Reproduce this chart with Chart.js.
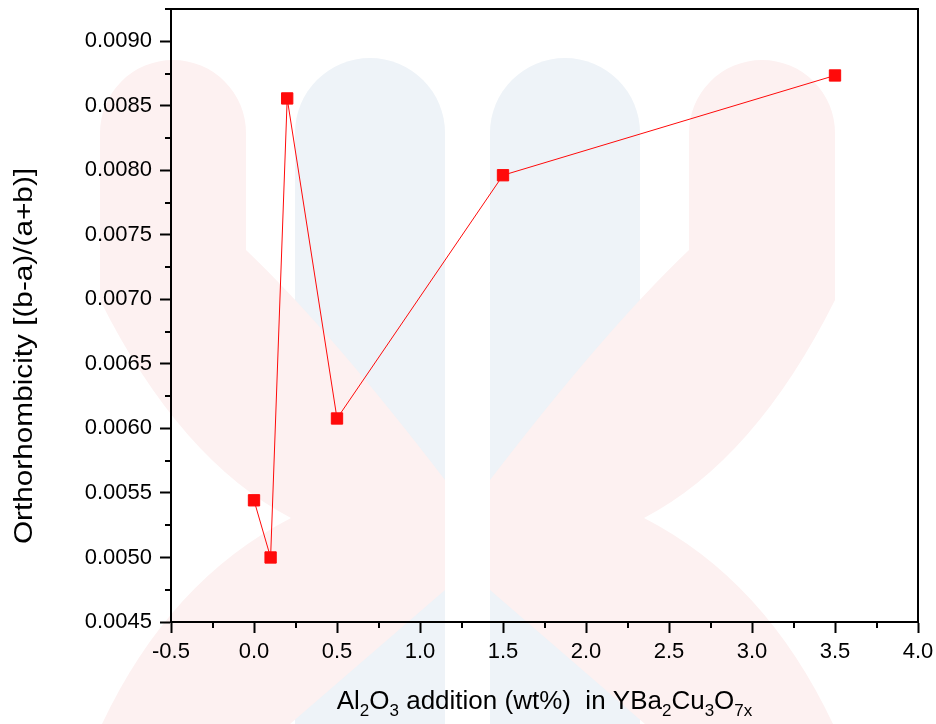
<!DOCTYPE html>
<html>
<head>
<meta charset="utf-8">
<script src="https://cdn.jsdelivr.net/npm/chart.js@4.4.1/dist/chart.umd.min.js"></script>
<style>
  html, body { margin: 0; padding: 0; background: #fff; }
  canvas { display: block; }
</style>
</head>
<body>
<canvas id="chart" width="936" height="724"></canvas>
<script>
/* global Chart */
const alumina = [0, 0.1, 0.2, 0.5, 1.5, 3.5];
const orthorhombicity = [0.005443, 0.00500, 0.008557, 0.006077, 0.007962, 0.008735];
const xTickLabels = ['-0.5', '0.0', '0.5', '1.0', '1.5', '2.0', '2.5', '3.0', '3.5', '4.0'];
const yTickLabels = ['0.0045', '0.0050', '0.0055', '0.0060', '0.0065', '0.0070', '0.0075', '0.0080', '0.0085', '0.0090'];
const yTitle = 'Orthorhombicity [(b-a)/(a+b)]';
// [text, isSubscript]
const xTitleParts = [['Al', 0], ['2', 1], ['O', 0], ['3', 1], [' addition (wt%)  in YBa', 0],
  ['2', 1], ['Cu', 0], ['3', 1], ['O', 0], ['7x', 1]];

const FONT = '"Liberation Sans", Arial, Helvetica, sans-serif';
const RED = '#ff0a0a';

function labelFor(list, value) {
  const hit = list.find((l) => Math.abs(Number(l) - value) < 1e-9);
  return hit === undefined ? '' : hit;
}

// faint logo in the background of the original picture
function drawWatermark(ctx) {
  ctx.save();
  ctx.fillStyle = '#eef3f8';
  [[295, 445], [490, 640]].forEach(([l, r]) => {
    const c = (l + r) / 2, rad = (r - l) / 2;
    ctx.beginPath();
    ctx.moveTo(l, 724);
    ctx.lineTo(l, 58 + rad);
    ctx.arc(c, 58 + rad, rad, Math.PI, 0);
    ctx.lineTo(r, 724);
    ctx.closePath();
    ctx.fill();
  });
  ctx.fillStyle = '#fdf1f1';
  [false, true].forEach((mirror) => {
    ctx.save();
    if (mirror) { ctx.translate(935, 0); ctx.scale(-1, 1); }
    ctx.beginPath();
    ctx.moveTo(100, 133);
    ctx.arc(173, 133, 73, Math.PI, 0);
    ctx.lineTo(246, 250);
    ctx.quadraticCurveTo(330, 330, 445, 480);
    ctx.lineTo(445, 590);
    ctx.lineTo(290, 724);
    ctx.lineTo(102, 724);
    ctx.quadraticCurveTo(170, 580, 291, 518);
    ctx.quadraticCurveTo(180, 460, 100, 300);
    ctx.closePath();
    ctx.fill();
    ctx.restore();
  });
  ctx.restore();
}

const frame = {
  id: 'frame',
  beforeDraw(chart) {
    drawWatermark(chart.ctx);
  },
  afterDraw(chart) {
    const {ctx, chartArea: a, scales: {x, y}} = chart;
    ctx.save();
    ctx.strokeStyle = '#000';
    ctx.lineWidth = 2;
    ctx.beginPath();
    ctx.moveTo(a.left - 1, a.top);
    ctx.lineTo(a.right, a.top);
    ctx.lineTo(a.right, a.bottom + 1);
    ctx.stroke();

    // minor ticks
    ctx.beginPath();
    x.ticks.forEach((t) => {
      if (t.label !== '') return;
      const px = Math.round(x.getPixelForValue(t.value));
      ctx.moveTo(px, a.bottom);
      ctx.lineTo(px, a.bottom + 6);
    });
    y.ticks.forEach((t) => {
      if (t.label !== '') return;
      const py = Math.round(y.getPixelForValue(t.value));
      ctx.moveTo(a.left, py);
      ctx.lineTo(a.left - 6, py);
    });
    ctx.stroke();

    ctx.fillStyle = '#000';
    // y title, stretched along its length like the original
    ctx.save();
    ctx.translate(25, 356);
    ctx.rotate(-Math.PI / 2);
    ctx.scale(1.19, 1);
    ctx.font = '25px ' + FONT;
    ctx.textAlign = 'center';
    ctx.textBaseline = 'middle';
    ctx.fillText(yTitle, 0, 0);
    ctx.restore();

    // x title with subscripts
    const mainFont = '26px ' + FONT;
    const subFont = '17px ' + FONT;
    ctx.textAlign = 'left';
    ctx.textBaseline = 'alphabetic';
    let total = 0;
    xTitleParts.forEach(([txt, sub]) => {
      ctx.font = sub ? subFont : mainFont;
      total += ctx.measureText(txt).width;
    });
    let cx = (a.left + a.right) / 2 - total / 2;
    xTitleParts.forEach(([txt, sub]) => {
      ctx.font = sub ? subFont : mainFont;
      ctx.fillText(txt, cx, sub ? 716 : 709);
      cx += ctx.measureText(txt).width;
    });
    ctx.restore();
  }
};

const ctx = document.getElementById('chart');
new Chart(ctx, {
  type: 'line',
  data: {
    datasets: [{
      data: alumina.map((v, i) => ({x: v, y: orthorhombicity[i]})),
      borderColor: RED,
      borderWidth: 1,
      backgroundColor: RED,
      pointStyle: 'rect',
      pointRadius: 8,
      pointBorderWidth: 1,
      pointBorderColor: RED,
      pointBackgroundColor: RED,
      tension: 0,
      fill: false
    }]
  },
  options: {
    responsive: false,
    animation: false,
    devicePixelRatio: 1,
    layout: {padding: {top: 8, right: 18, left: 0, bottom: 0}},
    plugins: {legend: {display: false}, tooltip: {enabled: false}},
    scales: {
      x: {
        type: 'linear',
        min: -0.5,
        max: 4.0,
        afterFit(scale) {
          scale.height = 102;
          scale.paddingLeft = 0;
          scale.paddingRight = 0;
        },
        border: {display: true, color: '#000', width: 2},
        grid: {
          display: true,
          drawOnChartArea: false,
          drawTicks: true,
          tickLength: 11,
          tickWidth: 2,
          tickColor: (c) => (c.tick && c.tick.label !== '' ? '#000' : 'rgba(0,0,0,0)')
        },
        ticks: {
          stepSize: 0.25,
          autoSkip: false,
          maxRotation: 0,
          padding: 6,
          color: '#000',
          font: {family: FONT, size: 22},
          callback: (v) => labelFor(xTickLabels, v)
        }
      },
      y: {
        type: 'linear',
        min: 0.0045,
        max: 0.00925,
        afterFit(scale) {
          scale.width = 171;
          scale.paddingTop = 0;
          scale.paddingBottom = 0;
        },
        border: {display: true, color: '#000', width: 2},
        grid: {
          display: true,
          drawOnChartArea: false,
          drawTicks: true,
          tickLength: 11,
          tickWidth: 2,
          tickColor: (c) => (c.tick && c.tick.label !== '' ? '#000' : 'rgba(0,0,0,0)')
        },
        ticks: {
          stepSize: 0.00025,
          autoSkip: false,
          padding: 8,
          color: '#000',
          font: {family: FONT, size: 22},
          callback: (v) => labelFor(yTickLabels, v)
        }
      }
    }
  },
  plugins: [frame]
});
</script>
</body>
</html>
